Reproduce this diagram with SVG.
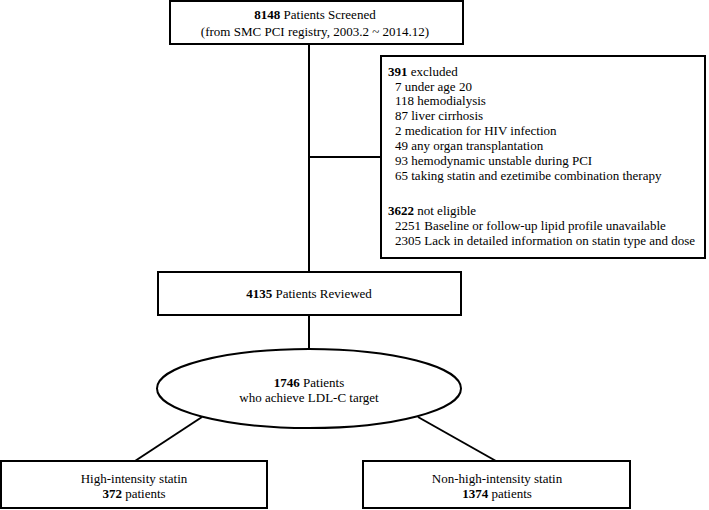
<svg xmlns="http://www.w3.org/2000/svg" width="709" height="510" viewBox="0 0 709 510">
<style>
.box{fill:#fff;stroke:#000;stroke-width:2}
.ln{stroke:#000;stroke-width:2;fill:none}
text{font-family:"Liberation Serif","Times New Roman",serif;font-size:13px;fill:#000}
.c{text-anchor:middle}
.b{font-weight:bold}
</style>
<rect width="709" height="510" fill="#fff"/>
<g id="connectors">
<line class="ln" x1="309" y1="44" x2="309" y2="272"/>
<line class="ln" x1="309" y1="157" x2="381" y2="157"/>
<line class="ln" x1="309" y1="315" x2="309" y2="349"/>
<line class="ln" x1="202" y1="417" x2="135" y2="461"/>
<line class="ln" x1="418" y1="417" x2="496" y2="461"/>
</g>
<g id="screened">
<rect class="box" x="170" y="1" width="293" height="43"/>
<text class="c" x="315" y="19"><tspan class="b">8148</tspan> Patients Screened</text>
<text class="c" x="315" y="36">(from SMC PCI registry, 2003.2 ~ 2014.12)</text>
</g>
<g id="excluded">
<rect class="box" x="381" y="56" width="324" height="202"/>
<text x="388" y="76"><tspan class="b">391</tspan> excluded</text>
<text x="395" y="91">7 under age 20</text>
<text x="395" y="105">118 hemodialysis</text>
<text x="395" y="120">87 liver cirrhosis</text>
<text x="395" y="135">2 medication for HIV infection</text>
<text x="395" y="150">49 any organ transplantation</text>
<text x="395" y="165">93 hemodynamic unstable during PCI</text>
<text x="395" y="180">65 taking statin and ezetimibe combination therapy</text>
<text x="388" y="215"><tspan class="b">3622</tspan> not eligible</text>
<text x="395" y="230">2251 Baseline or follow-up lipid profile unavailable</text>
<text x="395" y="245">2305 Lack in detailed information on statin type and dose</text>
</g>
<g id="reviewed">
<rect class="box" x="158" y="272" width="303" height="43"/>
<text class="c" x="309" y="298"><tspan class="b">4135</tspan> Patients Reviewed</text>
</g>
<g id="achieved">
<ellipse class="box" cx="309" cy="388.5" rx="152" ry="39.5"/>
<text class="c" x="309" y="387"><tspan class="b">1746</tspan> Patients</text>
<text class="c" x="309" y="402">who achieve LDL-C target</text>
</g>
<g id="high">
<rect class="box" x="1" y="461" width="266" height="47"/>
<text class="c" x="134" y="483">High-intensity statin</text>
<text class="c" x="134" y="498"><tspan class="b">372</tspan> patients</text>
</g>
<g id="nonhigh">
<rect class="box" x="363" y="461" width="267" height="47"/>
<text class="c" x="497" y="483">Non-high-intensity statin</text>
<text class="c" x="497" y="498"><tspan class="b">1374</tspan> patients</text>
</g>
</svg>
